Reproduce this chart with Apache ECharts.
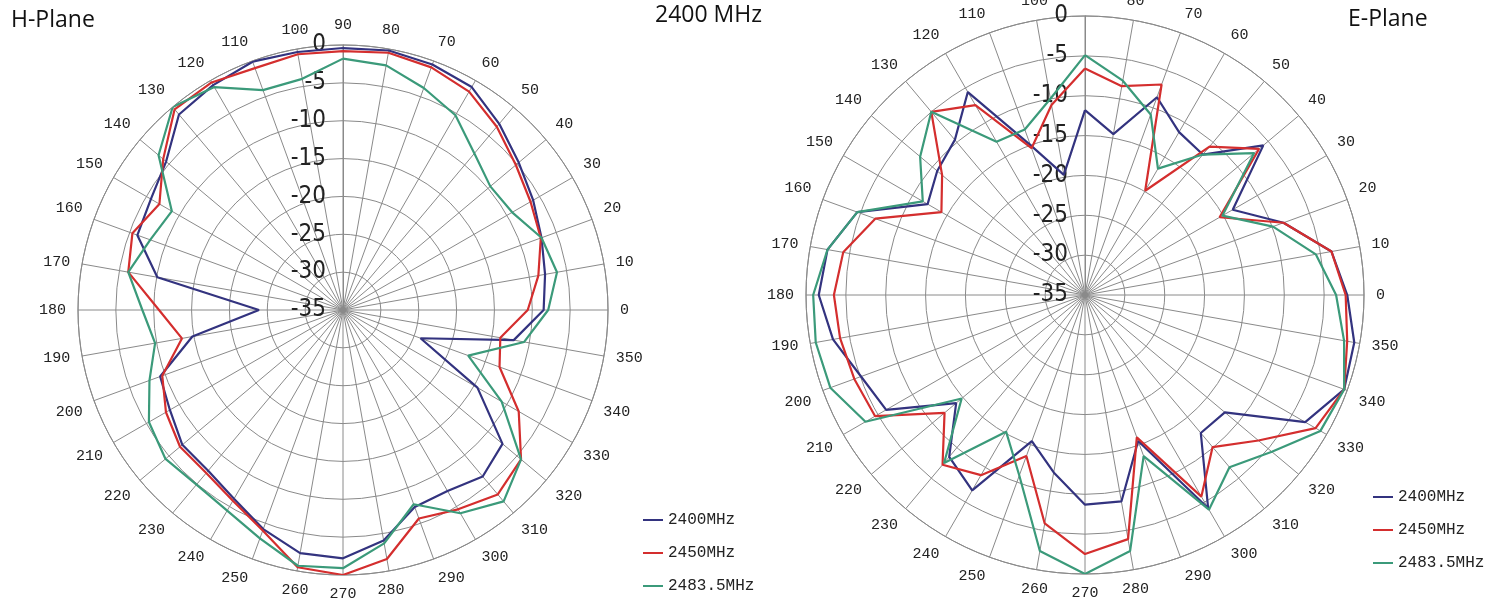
<!DOCTYPE html>
<html><head><meta charset="utf-8">
<script src="https://cdn.jsdelivr.net/npm/echarts@6/dist/echarts.min.js"></script>
<style>html,body{margin:0;padding:0;background:#fff}#c{width:1495px;height:610px}</style>
</head><body><div id="c"></div>
<script>
// Angles (degrees, 0 = east, counter-clockwise)
const angles = [0,10,20,30,40,50,60,70,80,90,100,110,120,130,140,150,160,170,180,190,200,210,220,230,240,250,260,270,280,290,300,310,320,330,340,350];
const seriesNames = ['2400MHz', '2450MHz', '2483.5MHz'];
const seriesColors = ['#33337f', '#d42e2e', '#3b9a7a'];
const chartTitles = ['H-Plane', '2400 MHz', 'E-Plane'];
const radiusMin = -35, radiusMax = 0, radiusStep = 5;

// H-Plane gain (dB)
const hPlane2400 = [-8.5,-7.9,-7.1,-6.0,-4.7,-2.9,-1.0,-0.5,-0.2,-0.4,-0.4,-0.1,-0.7,-1.3,-4.5,-5.7,-6.1,-10.1,-23.9,-14.8,-9.3,-8.6,-7.3,-7.3,-6.2,-4.2,-2.4,-2.2,-4.1,-7.3,-7.4,-6.3,-7.5,-14.5,-24.1,-12.1];
const hPlane2450 = [-10.6,-8.8,-7.2,-6.4,-5.2,-3.4,-1.7,-0.9,-0.5,-0.8,-0.7,-1.0,-0.3,-0.4,-4.0,-7.0,-5.4,-6.2,-10.7,-13.4,-9.6,-8.0,-6.9,-6.9,-5.9,-4.0,-0.5,0,-1.6,-5.7,-4.6,-3.2,-4.3,-8.2,-13.0,-13.9];
const hPlane2483 = [-7.9,-6.3,-7.1,-9.2,-9.6,-8.0,-5.3,-3.8,-2.2,-1.8,-4.0,-4.1,-1.0,0,-3.2,-8.9,-7.9,-6.2,-8.5,-9.8,-7.8,-5.4,-4.4,-4.9,-4.4,-2.9,-0.7,-0.9,-3.7,-7.7,-4.0,-2.0,-4.3,-10.8,-17.4,-10.7];

// E-Plane gain (dB)
const ePlane2400 = [-2.1,-3.6,-8.5,-13.6,-5.8,-12.0,-11.4,-8.6,-14.5,-11.8,-19.7,-15.0,-5.6,-9.6,-10.8,-12.2,-4.6,-2.2,-1.6,-2.9,-5.1,-6.2,-13.9,-8.5,-6.7,-15.5,-12.4,-8.7,-8.7,-15.5,-4.1,-12.4,-12.1,-3.1,-0.4,-0.7];
const ePlane2450 = [-2.3,-3.6,-8.5,-15.5,-6.5,-10.7,-19.9,-6.9,-8.4,-6.6,-10.8,-15.4,-7.5,-5.0,-11.6,-14.2,-7.0,-4.2,-3.5,-3.8,-4.2,-4.6,-12.0,-7.2,-8.9,-13.5,-5.9,-2.5,-3.9,-16.0,-5.8,-10.1,-6.6,-1.6,-0.4,-1.6];
const ePlane2483 = [-3.5,-5.6,-9.9,-15.1,-7.3,-12.0,-16.7,-10.9,-7.7,-4.9,-10.0,-12.9,-12.8,-5.0,-8.0,-11.5,-4.6,-2.2,-0.9,-0.7,-1.0,-3.2,-14.8,-7.5,-15.2,-10.9,-2.4,0,-2.4,-13.5,-3.9,-6.8,-4.4,-0.9,-0.4,-2.0];

// The angle axis starts at the top (so the radius axis labels sit on the 90° spoke);
// an axis value v is shown as the angle (v + 90) mod 360.
function toPolar(values) {
  const pts = [];
  for (let k = 0; k <= angles.length; k++) {
    const i = (k + 9) % angles.length;
    const v = k === angles.length ? 360 : (angles[i] - 90 + 360) % 360;
    pts.push([values[i], v]);
  }
  return pts;
}

const labelFont = "'Liberation Mono', 'DejaVu Sans Mono', monospace";
const radiusFont = "'Liberation Sans Narrow', 'DejaVu Sans Condensed', sans-serif";
const gridColor = '#8a8a8a';

function angleAxis(idx, hideTop) {
  return {
    polarIndex: idx, type: 'value', min: 0, max: 360, interval: 10,
    startAngle: 90, clockwise: false,
    axisLine: { show: true, lineStyle: { color: gridColor, width: 1 } },
    axisTick: { show: false },
    splitLine: { show: true, lineStyle: { color: gridColor, width: 1 } },
    axisLabel: {
      margin: 12, color: '#222', fontFamily: labelFont, fontSize: 15,
      formatter: v => (v === 360 || (hideTop && v === 0)) ? '' : String((v + 90) % 360)
    }
  };
}
function radiusAxis(idx) {
  return {
    polarIndex: idx, type: 'value', min: radiusMin, max: radiusMax, interval: radiusStep,
    axisLine: { show: true, lineStyle: { color: gridColor, width: 1 } },
    axisTick: { show: false },
    splitLine: { show: true, lineStyle: { color: gridColor, width: 1 } },
    axisLabel: { margin: 17, color: '#222', fontFamily: radiusFont, fontSize: 24 }
  };
}

const hSets = [hPlane2400, hPlane2450, hPlane2483];
const eSets = [ePlane2400, ePlane2450, ePlane2483];
const series = [];
[hSets, eSets].forEach((sets, p) => {
  sets.forEach((vals, s) => {
    series.push({
      name: seriesNames[s], type: 'line', coordinateSystem: 'polar', polarIndex: p,
      data: toPolar(vals), symbol: 'none', smooth: false,
      lineStyle: { color: seriesColors[s], width: 2.2 }, itemStyle: { color: seriesColors[s] },
      z: 3
    });
  });
});

const titleStyle = { fontFamily: "'Open Sans', 'Noto Sans', sans-serif", fontSize: 23, fontWeight: 'normal', color: '#111' };
const legendBase = {
  data: seriesNames, orient: 'vertical', icon: 'rect', itemWidth: 20, itemHeight: 2,
  itemGap: 17, textStyle: { fontFamily: labelFont, fontSize: 16, color: '#222' }
};

const chart = echarts.init(document.getElementById('c'), null, { renderer: 'canvas' });
chart.setOption({
  animation: false,
  backgroundColor: '#fff',
  title: [
    { text: chartTitles[0], left: 6, top: 4, textStyle: titleStyle },
    { text: chartTitles[1], left: 650, top: -1, textStyle: titleStyle },
    { text: chartTitles[2], left: 1343, top: 3, textStyle: titleStyle }
  ],
  legend: [
    Object.assign({ left: 638, top: 507 }, legendBase),
    Object.assign({ left: 1368, top: 484 }, legendBase)
  ],
  polar: [
    { center: [343, 310], radius: 265 },
    { center: [1085, 295], radius: 279 }
  ],
  angleAxis: [angleAxis(0, false), angleAxis(1, true)],
  radiusAxis: [radiusAxis(0), radiusAxis(1)],
  series: series
});
</script></body></html>
